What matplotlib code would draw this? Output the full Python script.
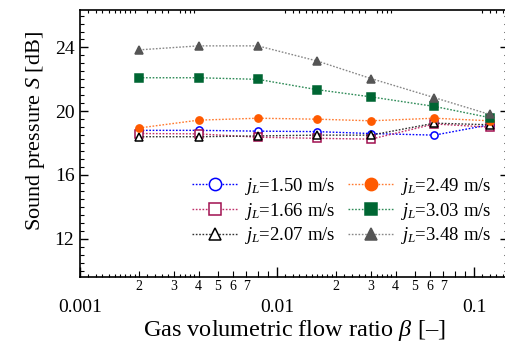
import numpy as np
import matplotlib
matplotlib.use("Agg")
import matplotlib.pyplot as plt
from matplotlib.ticker import FixedLocator, FuncFormatter, NullLocator, NullFormatter

plt.rcParams['font.family'] = ['Liberation Serif', 'DejaVu Serif']
plt.rcParams['mathtext.fontset'] = 'custom'
plt.rcParams['mathtext.rm'] = 'Liberation Serif'
plt.rcParams['mathtext.it'] = 'Liberation Serif:italic'

# gas volumetric flow ratio
beta = [0.002, 0.004, 0.008, 0.016, 0.03, 0.063, 0.12]

# sound pressure for each liquid velocity
s_150 = [18.8, 18.8, 18.75, 18.72, 18.6, 18.5, 19.15]
s_166 = [18.6, 18.58, 18.37, 18.3, 18.25, 19.2, 19.0]
s_207 = [18.4, 18.4, 18.45, 18.5, 18.5, 19.25, 19.15]
s_249 = [18.95, 19.44, 19.56, 19.5, 19.4, 19.56, 19.4]
s_303 = [22.1, 22.1, 22.0, 21.35, 20.9, 20.3, 19.6]
s_348 = [23.85, 24.1, 24.1, 23.15, 22.05, 20.85, 19.8]

etiquetas = ["1.50", "1.66", "2.07", "2.49", "3.03", "3.48"]

fig = plt.figure(figsize=(5.06, 3.43), dpi=100)
ax = fig.add_axes([80/506, 66/343, 428/506, 267/343])

estilo = (0, (1.2, 1.2))
# (valores, cor da linha, cor do marcador, marcador, preenchido)
series = [
    (s_150, '#0000ff', '#0000ff', 'o', False),
    (s_166, '#c0306a', '#a01050', 's', False),
    (s_207, '#333333', '#000000', '^', False),
    (s_249, '#ff7a30', '#ff5a00', 'o', True),
    (s_303, '#2e8b57', '#006633', 's', True),
    (s_348, '#888888', '#555555', '^', True),
]

for (valores, cor_linha, cor, marcador, cheio), rotulo in zip(series, etiquetas):
    ax.plot(beta, valores, linestyle=estilo, linewidth=1.0, color=cor_linha,
            marker=marcador, markersize=5.2,
            markerfacecolor=cor if cheio else 'white',
            markeredgecolor=cor, markeredgewidth=1.1,
            label=r"$j_L$" + "=" + rotulo + " m/s")

ax.set_xscale('log')
ax.set_xlim(0.001, 10 ** (-3 + 428 / 197))
ax.set_ylim(9.6, 26.35)

# ticks do eixo y
ax.set_yticks([12, 16, 20, 24])
ax.yaxis.set_minor_locator(FixedLocator(np.arange(10, 26.5, 0.5)))

# ticks do eixo x: decadas, 2..9 e ticks pequenos
decadas = [0.001, 0.01, 0.1]
medios = [m * d for d in decadas for m in range(2, 10)]
pequenos = []
for d in decadas:
    pequenos += [m * d for m in np.arange(1.1, 2.0, 0.1)]
    pequenos += [m * d for m in np.arange(2.2, 3.0, 0.2)]
    pequenos += [m * d for m in np.arange(3.2, 4.0, 0.2)]

ax.xaxis.set_major_locator(FixedLocator(decadas))
ax.xaxis.set_major_formatter(FuncFormatter(lambda v, p: "%g" % v))
ax.xaxis.set_minor_locator(FixedLocator(medios))

def rotulo_menor(v, p):
    if v > 0.09:
        return ""
    m = v / 10 ** np.floor(np.log10(v) + 1e-9)
    m = int(round(m))
    if 2 <= m <= 7:
        return str(m)
    return ""

ax.xaxis.set_minor_formatter(FuncFormatter(rotulo_menor))

ax.tick_params(axis='both', which='both', direction='in', top=True, right=True)
ax.tick_params(axis='x', which='major', length=7, width=1, labelsize=14, pad=16)
ax.tick_params(axis='x', which='minor', length=4, width=0.8, labelsize=10, pad=2.5)
ax.tick_params(axis='y', which='major', length=6, width=1, labelsize=14, pad=4)
ax.tick_params(axis='y', which='minor', length=3, width=0.8)

ax2 = ax.twiny()
ax2.set_xscale('log')
ax2.set_xlim(ax.get_xlim())
ax2.xaxis.set_major_locator(NullLocator())
ax2.xaxis.set_minor_locator(FixedLocator(pequenos))
ax2.xaxis.set_minor_formatter(NullFormatter())
ax2.tick_params(axis='x', which='minor', direction='in', bottom=True, top=True,
                length=2.2, width=0.8, labelbottom=False, labeltop=False)
for sp in ax2.spines.values():
    sp.set_visible(False)

for sp in ax.spines.values():
    sp.set_linewidth(1.2)
ax.spines['right'].set_visible(False)

ax.set_xlabel("Gas volumetric flow ratio $\\beta$ [\u2013]", fontsize=17.5, labelpad=1)
ax.set_ylabel("Sound pressure $S$ [dB]", fontsize=16)
ax.yaxis.set_label_coords(-0.076, 0.547)

ax.legend(ncol=2, loc='lower left', bbox_to_anchor=(0.262, 0.115), frameon=False,
          fontsize=13.5, markerscale=1.7, handlelength=2.4, handletextpad=0.35,
          columnspacing=0.7, labelspacing=0.2, borderpad=0, borderaxespad=0)

fig.savefig("out.png", dpi=100)
